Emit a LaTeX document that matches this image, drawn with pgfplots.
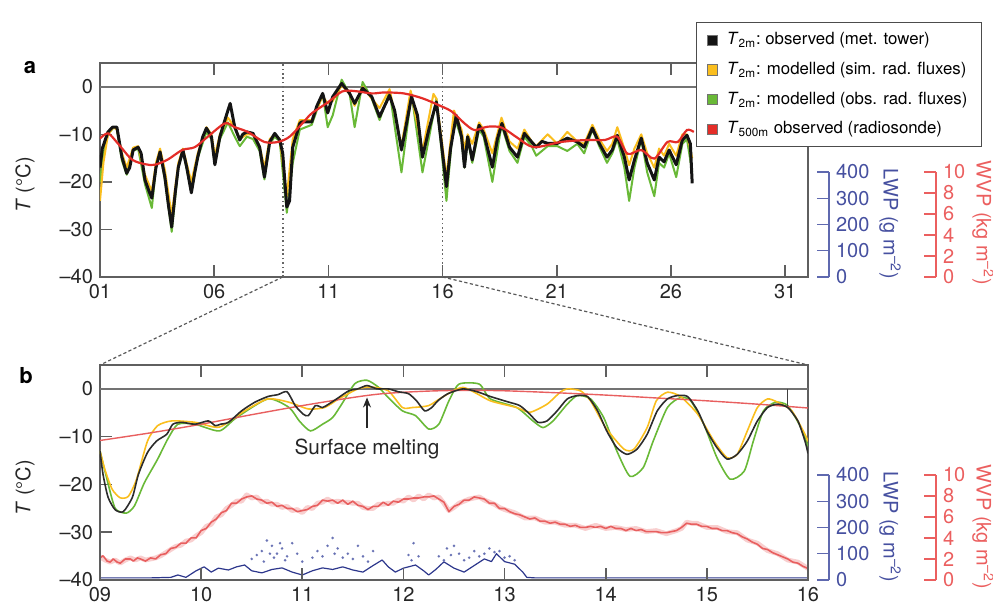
\documentclass[border=0pt]{standalone}
\usepackage{pgfplots}
\pgfplotsset{compat=1.18}
\usepackage{fontspec}
\setmainfont{TeX Gyre Heros}
\usetikzlibrary{arrows.meta}
\definecolor{cblk}{RGB}{20,20,20}
\definecolor{cyel}{RGB}{250,190,30}
\definecolor{cgrn}{RGB}{105,185,55}
\definecolor{cred}{RGB}{228,45,40}
\definecolor{cpink}{RGB}{232,95,95}
\definecolor{clwp}{RGB}{45,55,140}
\definecolor{clwpax}{RGB}{95,105,175}
\definecolor{clwptx}{RGB}{70,80,160}
\definecolor{cwvpax}{RGB}{235,95,95}
\definecolor{cframe}{RGB}{95,95,95}
\pgfplotsset{
  mainax/.style={scale only axis, width=354pt,
    axis line style={cframe, line width=0.8pt},
    tick align=inside, major tick length=6pt,
    tick style={cframe, line width=0.8pt},
    xtick pos=both, ytick pos=left,
    ymin=-40, ymax=5, ytick={-40,-30,-20,-10,0},
    yticklabels={\textendash40,\textendash30,\textendash20,\textendash10,0},
    tick label style={font=\fontsize{10}{12}\selectfont, text=black!85},
    /pgf/number format/assume math mode=true,
    ylabel={\textit{T} (°C)},
    every axis y label/.style={at={(-0.106,0.43)}, anchor=center, rotate=90, font=\fontsize{10}{12}\selectfont, text=black!85},
  },
  overax/.style={scale only axis, width=354pt, hide axis},
  sideax/.style={scale only axis, anchor=south east, width=20pt, height=52.5pt,
    xmin=0, xmax=1, axis x line=none, axis y line*=right,
    tick align=inside, major tick length=6pt,
    /pgf/number format/assume math mode=true,
    yticklabel style={font=\fontsize{10}{12}\selectfont}},
  lwpax/.style={sideax, ymin=0, ymax=400, ytick={0,100,200,300,400},
    axis line style={clwpax, line width=0.7pt}, tick style={clwpax, line width=0.7pt},
    yticklabel style={text=clwptx}},
  wvpax/.style={sideax, ymin=0, ymax=10, ytick={0,2,4,6,8,10},
    axis line style={cwvpax, line width=0.7pt}, tick style={cwvpax, line width=0.7pt},
    yticklabel style={text=cwvpax}},
}
\begin{document}
\begin{tikzpicture}
\useasboundingbox (0,0) rectangle (496.5pt,301.5pt);

% ---------------- panel a ----------------
\begin{axis}[mainax, at={(50pt,163pt)}, anchor=south west, height=107pt,
  xmin=1, xmax=32, xtick={1,6,11,16,21,26,31},
  xticklabels={01,06,11,16,21,26,31},
  legend style={at={(1.2458,1.1916)}, anchor=north east, draw=black!70, line width=0.6pt,
    fill=white, font=\fontsize{8.4}{10}\selectfont, row sep=3.2pt, column sep=2.5pt,
    inner xsep=5pt, inner ysep=3pt},
  legend cell align=left]
\addlegendimage{legend image code/.code={\filldraw[draw=black!55, line width=0.5pt, fill=cblk] (0pt,-2.6pt) rectangle (5.2pt,2.6pt);}}
\addlegendentry{\textit{T}\textsubscript{2m}:\ observed (met. tower)}
\addlegendimage{legend image code/.code={\filldraw[draw=black!55, line width=0.5pt, fill=cyel] (0pt,-2.6pt) rectangle (5.2pt,2.6pt);}}
\addlegendentry{\textit{T}\textsubscript{2m}: modelled (sim. rad. fluxes)}
\addlegendimage{legend image code/.code={\filldraw[draw=black!55, line width=0.5pt, fill=cgrn] (0pt,-2.6pt) rectangle (5.2pt,2.6pt);}}
\addlegendentry{\textit{T}\textsubscript{2m}: modelled (obs. rad. fluxes)}
\addlegendimage{legend image code/.code={\filldraw[draw=black!55, line width=0.5pt, fill=cred] (0pt,-2.6pt) rectangle (5.2pt,2.6pt);}}
\addlegendentry{\textit{T}\textsubscript{500m} observed (radiosonde)}
\addplot[forget plot, black!55, line width=0.9pt] coordinates {(1,0) (32,0)};
\addplot[forget plot, black!60, line width=0.9pt, dash pattern=on 0.8pt off 1.4pt] coordinates {(9,-40) (9,5)};
\addplot[forget plot, black!60, line width=0.9pt, dash pattern=on 0.8pt off 1.4pt] coordinates {(16,-40) (16,5)};
% green
\addplot[forget plot, cgrn, line width=1.0pt, line join=round] coordinates {
(1.0,-20)(1.15,-14)(1.35,-10)(1.6,-8.5)(1.74,-9)(1.96,-15.5)(2.17,-18.5)(2.45,-13.5)(2.67,-13)(2.97,-20.5)(3.27,-25.5)(3.45,-17)(3.63,-14)(3.84,-19.5)(4.14,-30.5)(4.43,-17)(4.63,-13.5)(5.0,-22)(5.28,-15)(5.66,-9.5)(5.88,-11)(6.03,-16)(6.25,-11)(6.6,-7.5)(6.9,-10.5)(7.12,-12.5)(7.43,-10.5)(7.7,-11)(7.99,-13.5)(8.2,-19.5)(8.43,-12)(8.65,-10.5)(8.87,-11.5)(9.18,-26.5)(9.44,-16)(9.75,-9)(10.27,-8)(10.75,-1.5)(10.97,-8.5)(11.19,-6)(11.58,1.5)(11.93,-1.5)(12.15,-8.5)(12.5,1)(12.9,-2.5)(13.24,-7)(13.68,-1)(14.2,-18)(14.64,-1.5)(15.12,-18)(15.73,-2.5)(16.17,-24)(16.5,-6)(16.83,-11)(16.96,-17)(17.1,-11)(17.3,-16)(17.6,-9)(17.8,-10.5)(18.18,-20)(18.58,-8)(18.93,-13.5)(19.28,-16)(19.58,-10.5)(19.9,-12.5)(20.1,-14.5)(20.6,-12.5)(21.03,-12.5)(21.46,-13.5)(21.9,-12)(22.2,-14)(22.56,-9)(22.86,-12.5)(23.2,-16)(23.43,-14)(23.65,-11)(23.96,-17)(24.17,-24)(24.4,-17)(24.7,-11)(24.96,-18)(25.27,-23)(25.48,-16)(25.7,-17)(25.92,-14)(26.23,-19)(26.5,-12)(26.7,-11)(26.93,-18)};
% yellow
\addplot[forget plot, cyel, line width=1.0pt, line join=round] coordinates {
(1.0,-24)(1.15,-16)(1.35,-10)(1.6,-8.5)(1.74,-9)(1.96,-14)(2.17,-17)(2.45,-12.8)(2.67,-12.5)(2.97,-18.5)(3.27,-22)(3.45,-16)(3.63,-13)(3.84,-17.5)(4.14,-27)(4.43,-16)(4.63,-13)(5.0,-20)(5.28,-14)(5.66,-8.5)(5.88,-10)(6.03,-14.5)(6.25,-10)(6.6,-6.5)(6.9,-8.5)(7.12,-11)(7.43,-10)(7.7,-10)(7.99,-12.5)(8.2,-17)(8.43,-11)(8.65,-10)(8.87,-11)(9.18,-23)(9.44,-11)(9.75,-7)(10.27,-7)(10.75,-2)(10.97,-3.5)(11.19,-3)(11.58,0.3)(11.93,-1.5)(12.15,-4)(12.5,0)(12.9,-2.5)(13.24,-4.5)(13.68,-0.5)(14.2,-12.5)(14.6,-0.8)(15.12,-13.5)(15.6,-1.5)(15.73,-2.5)(16.17,-19)(16.5,-5)(16.83,-9)(16.96,-13)(17.1,-10)(17.3,-12)(17.6,-7.5)(17.8,-9)(18.18,-14)(18.58,-6.5)(18.93,-11.5)(19.28,-13)(19.58,-9)(19.9,-11.5)(20.1,-12.5)(20.6,-10)(21.03,-12)(21.46,-9.5)(21.9,-11.5)(22.2,-12)(22.56,-8)(22.86,-11)(23.2,-13.5)(23.43,-12)(23.65,-8.5)(23.96,-13)(24.17,-16.5)(24.4,-13)(24.7,-10)(24.96,-14)(25.27,-17)(25.48,-13)(25.7,-14.5)(25.92,-12)(26.23,-14.5)(26.5,-10)(26.7,-10)(26.93,-15)};
% black
\addplot[forget plot, cblk, line width=1.5pt, line join=round] coordinates {
(1.0,-17)(1.1,-13)(1.35,-9.5)(1.55,-8.5)(1.74,-8.5)(1.96,-14.8)(2.17,-18.2)(2.3,-17)(2.45,-13.3)(2.67,-12.7)(2.8,-14)(2.97,-19.6)(3.15,-22)(3.27,-23.4)(3.45,-17)(3.63,-13.7)(3.84,-19)(4.0,-25)(4.14,-29.5)(4.3,-22)(4.43,-16.9)(4.63,-13.3)(4.8,-17)(5.0,-22.3)(5.15,-18)(5.28,-14.8)(5.5,-10.5)(5.66,-8.7)(5.88,-10.5)(6.03,-16.4)(6.25,-10.5)(6.47,-7)(6.6,-5)(6.7,-3.5)(6.9,-8.5)(7.12,-11.2)(7.25,-10)(7.43,-9.5)(7.7,-9.8)(7.99,-12.7)(8.2,-19)(8.43,-11.6)(8.65,-9.8)(8.87,-11.2)(9.0,-14)(9.18,-25.3)(9.3,-24)(9.44,-12.7)(9.75,-7.7)(9.83,-7.4)(10.27,-7.4)(10.5,-4)(10.75,-1.4)(10.97,-5.5)(11.19,-2.1)(11.58,0.7)(11.93,-1.4)(12.15,-3.5)(12.5,-0.3)(12.9,-2.1)(13.24,-6.3)(13.68,-1.8)(13.9,-5)(14.2,-13.3)(14.45,-7)(14.64,-2.1)(14.9,-6)(15.12,-14.8)(15.4,-9)(15.73,-3.2)(15.95,-12)(16.17,-21)(16.35,-13)(16.6,-6)(16.83,-10.5)(16.96,-16.9)(17.1,-10.5)(17.3,-15.4)(17.6,-8.1)(17.8,-9.8)(18.18,-16.9)(18.4,-11)(18.6,-7.7)(18.93,-12.7)(19.28,-14.8)(19.58,-9.8)(19.9,-11.6)(20.1,-12.7)(20.35,-11.5)(20.6,-11.9)(21.03,-11.9)(21.46,-10.8)(21.9,-11.6)(22.2,-12.7)(22.56,-8.7)(22.86,-11.9)(23.2,-14.8)(23.43,-13.3)(23.65,-10.2)(23.96,-14.8)(24.17,-19.6)(24.4,-15.4)(24.7,-10.8)(24.96,-16)(25.27,-19.6)(25.48,-14.8)(25.7,-15.8)(25.92,-13.3)(26.23,-16.4)(26.5,-11.2)(26.7,-10.2)(26.85,-12)(26.93,-20.3)};
% red T500m
\addplot[forget plot, cred, line width=1.1pt, smooth, tension=0.5] coordinates {
(1,-10.9)(1.35,-9.8)(1.78,-11.9)(2.4,-15.3)(3.0,-16.3)(3.4,-16.4)(3.97,-15.3)(4.6,-13.3)(5.15,-12.7)(5.72,-10.5)(6.47,-7.7)(6.9,-8.5)(7.47,-9.5)(8.2,-11.6)(8.8,-11.6)(9.3,-10.5)(9.9,-7.5)(10.27,-5.6)(11,-3.2)(11.6,-1.0)(12.15,-0.9)(12.9,-1.4)(13.45,-1.2)(14.3,-1.4)(15.1,-2.4)(15.8,-3.8)(16.4,-5.2)(16.96,-7.7)(17.4,-9.1)(17.97,-8.4)(18.6,-8.6)(19.3,-10.8)(20.0,-12.7)(21.2,-11.6)(22.3,-11.2)(23.1,-11.2)(23.65,-10.5)(24.1,-14.1)(24.7,-13.3)(25.27,-15.1)(25.85,-11.6)(26.3,-11.6)(26.7,-9.1)(27,-9.5)};
\coordinate (a9) at (axis cs:9,-40);
\coordinate (a16) at (axis cs:16,-40);
\end{axis}

\begin{axis}[lwpax, at={(414.5pt,163pt)}]
\end{axis}
\begin{axis}[wvpax, at={(468pt,163pt)}]
\end{axis}

% ---------------- panel b overlays ----------------
\begin{axis}[overax, at={(50pt,11.5pt)}, anchor=south west, height=107.5pt,
  xmin=9, xmax=16, ymin=0, ymax=20.45]
\addplot[cpink, opacity=0.3, line width=2.4pt, line join=round] coordinates {
(9.0,2.2)(9.05,1.9)(9.1,1.7)(9.15,1.9)(9.2,1.6)(9.25,1.9)(9.3,2.1)(9.35,1.9)(9.4,2.1)(9.45,1.9)(9.5,2.0)(9.55,2.1)(9.6,2.3)(9.65,2.6)(9.7,2.9)(9.75,3.2)(9.8,3.3)(9.85,3.7)(9.9,3.8)(9.95,4.2)(10.0,4.5)(10.05,5.1)(10.1,5.3)(10.15,6.0)(10.2,6.2)(10.25,6.8)(10.3,7.1)(10.35,7.5)(10.4,7.5)(10.45,8.1)(10.5,7.8)(10.55,7.9)(10.6,7.4)(10.65,7.5)(10.7,7.2)(10.75,7.2)(10.8,6.9)(10.85,7.0)(10.9,6.6)(10.95,6.7)(11.0,6.4)(11.05,6.9)(11.1,6.8)(11.15,7.3)(11.2,7.4)(11.25,7.7)(11.3,7.4)(11.35,7.5)(11.4,7.4)(11.45,7.4)(11.5,7.3)(11.55,7.3)(11.6,6.9)(11.65,6.8)(11.7,6.8)(11.75,7.2)(11.8,7.2)(11.85,7.3)(11.9,7.3)(11.95,7.6)(12.0,7.5)(12.05,7.9)(12.1,7.6)(12.15,8.0)(12.2,7.7)(12.25,8.1)(12.3,7.8)(12.35,7.9)(12.4,7.3)(12.45,6.6)(12.5,6.9)(12.55,7.3)(12.6,7.5)(12.65,7.7)(12.7,7.8)(12.75,7.9)(12.8,7.6)(12.85,7.4)(12.9,7.2)(12.95,6.9)(13.0,6.7)(13.1,6.4)(13.2,5.9)(13.3,5.9)(13.4,5.5)(13.5,5.5)(13.6,5.2)(13.7,5.2)(13.8,4.9)(13.9,5.2)(14.0,4.9)(14.1,5.0)(14.2,4.8)(14.3,4.9)(14.4,4.6)(14.5,4.7)(14.6,4.4)(14.7,4.7)(14.75,4.9)(14.8,5.5)(14.85,5.4)(14.9,5.4)(15.0,5.0)(15.1,5.0)(15.2,4.6)(15.3,4.5)(15.4,3.8)(15.5,3.5)(15.6,2.8)(15.7,2.5)(15.8,1.9)(15.9,1.7)(16.0,1.1)};
\addplot[cpink, line width=0.8pt, line join=round] coordinates {
(9.0,2.1)(9.03,2.3)(9.07,1.8)(9.1,1.7)(9.13,2.0)(9.17,1.7)(9.2,1.6)(9.25,2.0)(9.3,2.0)(9.33,1.8)(9.37,2.1)(9.4,2.0)(9.45,1.8)(9.5,2.1)(9.55,2.0)(9.6,2.4)(9.65,2.5)(9.7,3.0)(9.75,3.1)(9.8,3.5)(9.85,3.5)(9.9,4.0)(9.95,4.0)(10.0,4.7)(10.05,4.9)(10.1,5.5)(10.15,5.8)(10.2,6.4)(10.25,6.6)(10.3,7.3)(10.35,7.3)(10.4,7.7)(10.45,7.9)(10.5,8.0)(10.55,7.7)(10.6,7.6)(10.65,7.3)(10.7,7.4)(10.75,7.0)(10.8,7.1)(10.85,6.8)(10.9,6.8)(10.95,6.5)(11.0,6.6)(11.05,6.7)(11.1,7.0)(11.15,7.1)(11.2,7.6)(11.25,7.5)(11.3,7.6)(11.35,7.3)(11.4,7.6)(11.45,7.2)(11.5,7.5)(11.55,7.1)(11.6,7.0)(11.65,6.7)(11.7,7.0)(11.75,7.0)(11.8,7.4)(11.85,7.1)(11.9,7.5)(11.95,7.4)(12.0,7.7)(12.05,7.7)(12.1,7.8)(12.15,7.8)(12.2,7.9)(12.25,7.9)(12.3,8.0)(12.35,7.7)(12.4,7.4)(12.45,6.5)(12.5,7.0)(12.55,7.2)(12.6,7.6)(12.65,7.6)(12.7,7.9)(12.75,7.8)(12.8,7.7)(12.85,7.3)(12.9,7.3)(12.95,6.8)(13.0,6.8)(13.05,6.5)(13.1,6.3)(13.15,6.2)(13.2,6.0)(13.25,5.8)(13.3,5.9)(13.35,5.6)(13.4,5.6)(13.45,5.4)(13.5,5.5)(13.55,5.3)(13.6,5.3)(13.65,5.1)(13.7,5.2)(13.75,5.0)(13.8,5.0)(13.85,5.1)(13.9,5.0)(13.95,5.1)(14.0,4.9)(14.05,5.1)(14.1,4.9)(14.15,4.9)(14.2,4.7)(14.25,4.9)(14.3,4.7)(14.35,4.8)(14.4,4.6)(14.45,4.6)(14.5,4.6)(14.55,4.5)(14.6,4.5)(14.65,4.6)(14.7,4.7)(14.75,5.0)(14.8,5.4)(14.85,5.3)(14.9,5.3)(14.95,5.1)(15.0,5.1)(15.05,4.9)(15.1,4.9)(15.15,4.7)(15.2,4.7)(15.25,4.5)(15.3,4.4)(15.35,4.1)(15.4,3.9)(15.45,3.6)(15.5,3.4)(15.55,3.0)(15.6,2.9)(15.65,2.6)(15.7,2.4)(15.75,2.2)(15.8,2.0)(15.85,1.7)(15.9,1.6)(15.95,1.3)(16.0,1.1)};
\end{axis}
\begin{axis}[overax, at={(50pt,11.5pt)}, anchor=south west, height=107.5pt,
  xmin=9, xmax=16, ymin=0, ymax=818]
\addplot[only marks, mark=*, mark size=0.45pt, clwpax, opacity=0.8] coordinates {
(10.5,80)(10.55,95)(10.6,110)(10.62,70)(10.65,150)(10.68,100)(10.7,130)(10.72,85)(10.75,100)(10.78,140)(10.8,120)(10.83,75)(10.85,90)(10.9,140)(10.95,100)(11.0,70)(11.1,85)(11.15,110)(11.2,90)(11.25,130)(11.3,160)(11.32,100)(11.35,120)(11.4,85)(11.45,100)(11.5,80)(11.55,130)(11.6,90)(11.65,70)(11.7,110)(12.05,95)(12.08,75)(12.1,140)(12.15,90)(12.35,90)(12.4,75)(12.43,120)(12.47,95)(12.5,130)(12.55,100)(12.6,75)(12.65,85)(12.7,110)(12.75,90)(12.8,100)(12.85,120)(12.9,106)(12.95,110)(13.0,85)(13.05,90)(13.1,75)};
\addplot[clwp, line width=0.6pt, line join=round] coordinates {
(9,8)(9.5,8)(9.7,10)(9.77,19)(9.85,10)(9.95,35)(10.03,50)(10.1,30)(10.17,45)(10.27,38)(10.35,50)(10.43,57)(10.5,35)(10.6,27)(10.7,40)(10.8,46)(10.9,30)(11.0,19)(11.1,35)(11.2,46)(11.3,40)(11.4,50)(11.5,38)(11.6,30)(11.7,55)(11.79,76)(11.85,50)(11.92,30)(12.0,45)(12.12,57)(12.2,35)(12.25,19)(12.32,40)(12.4,69)(12.5,45)(12.6,30)(12.7,55)(12.8,80)(12.87,70)(12.92,100)(13.0,70)(13.1,60)(13.18,30)(13.22,10)(13.3,8)(16,8)};
\end{axis}

% ---------------- panel b ----------------
\begin{axis}[mainax, at={(50pt,11.5pt)}, anchor=south west, height=107.5pt,
  xmin=9, xmax=16, xtick={9,...,16}, xticklabels={09,10,11,12,13,14,15,16}]
\addplot[black!55, line width=0.9pt] coordinates {(9,0) (16,0)};
\addplot[cgrn, line width=0.8pt, smooth, tension=0.4] coordinates {
(9.0,-13)(9.07,-19)(9.15,-25)(9.26,-26)(9.34,-24.5)(9.44,-19.6)(9.57,-14.7)(9.67,-10.5)(9.77,-7.4)(9.94,-7.4)(10.18,-8.8)(10.35,-6)(10.66,-2.1)(10.87,-3.9)(10.97,-6.7)(11.08,-8.8)(11.2,-7.4)(11.3,-6.0)(11.39,-3.2)(11.52,1.1)(11.64,1.8)(11.75,0.4)(11.85,-1.8)(11.99,-4.6)(12.12,-5.6)(12.25,-8.4)(12.35,-7.4)(12.45,-2.5)(12.55,1)(12.75,1)(12.86,-2.1)(13.12,-3.9)(13.28,-6.7)(13.38,-8.1)(13.48,-6.7)(13.62,-3.2)(13.72,-1.4)(13.85,-2.1)(13.98,-6)(14.11,-13)(14.24,-18.3)(14.37,-16.5)(14.47,-10.9)(14.61,-3.9)(14.74,-1.8)(14.84,-2.5)(14.97,-7.4)(15.1,-14.4)(15.23,-18.9)(15.37,-17.2)(15.46,-10.9)(15.56,-4.6)(15.68,-2.8)(15.8,-3.5)(15.93,-8.1)(16,-12)};
\addplot[cyel, line width=0.8pt, smooth, tension=0.4] coordinates {
(9.0,-13)(9.05,-17)(9.12,-21)(9.2,-22.8)(9.28,-22.5)(9.36,-19)(9.47,-10.9)(9.57,-7.7)(9.71,-6.7)(9.94,-7)(10.18,-8)(10.43,-4.6)(10.66,-2.1)(10.87,-2.8)(11.06,-4.2)(11.22,-3.9)(11.36,-2.1)(11.55,0)(11.68,0.4)(11.85,-0.4)(11.99,-3.9)(12.09,-3.9)(12.25,-3.5)(12.38,-1.8)(12.59,0.3)(12.86,-2.5)(13.12,-3.9)(13.25,-4.9)(13.42,-3.2)(13.55,-0.7)(13.62,0)(13.75,-0.4)(13.85,-2.5)(14.0,-8.1)(14.18,-12.6)(14.28,-12.6)(14.41,-8.1)(14.5,-2.5)(14.61,-0.7)(14.74,-1.6)(14.91,-5.3)(15.07,-10.9)(15.2,-14.4)(15.3,-13.7)(15.4,-8.8)(15.5,-3.9)(15.6,-2.1)(15.7,-2.8)(15.84,-4.6)(15.97,-9.5)(16,-11)};
\addplot[cpink, line width=0.7pt, smooth] coordinates {
(9,-10.8)(9.5,-9.2)(10,-7.4)(10.5,-5.4)(11,-3.5)(11.5,-1.8)(11.8,-1.0)(12.2,-0.5)(12.6,-0.3)(13,-0.4)(13.5,-0.8)(14,-1.3)(14.5,-1.9)(15,-2.5)(15.5,-3.2)(16,-4)};
\addplot[cblk!90, line width=0.8pt, smooth, tension=0.4] coordinates {
(9.0,-13)(9.03,-17.9)(9.08,-22.7)(9.15,-25.3)(9.23,-25.7)(9.32,-22.7)(9.38,-17.9)(9.47,-13.3)(9.56,-10.9)(9.66,-9.5)(9.72,-7.4)(9.81,-7.0)(9.94,-7.4)(10.07,-6.7)(10.14,-7.7)(10.19,-7.4)(10.27,-7)(10.4,-4.6)(10.53,-2.8)(10.66,-1.6)(10.76,-1.2)(10.85,-0.6)(10.93,-3.5)(11.01,-5.3)(11.06,-5.6)(11.13,-3.5)(11.2,-3.9)(11.26,-3.2)(11.34,-2.1)(11.46,-0.4)(11.55,0)(11.64,0.7)(11.74,0)(11.85,0)(11.95,-0.6)(12.05,-1.0)(12.13,-2.5)(12.21,-4.6)(12.28,-3.9)(12.34,-2.5)(12.44,-1.0)(12.59,0)(12.73,-0.6)(12.86,-1.6)(13.03,-2.7)(13.15,-3.5)(13.25,-5.3)(13.33,-7.0)(13.42,-6.7)(13.52,-4.6)(13.62,-2.1)(13.72,-1.4)(13.82,-1.6)(13.92,-4.6)(14.01,-8.8)(14.11,-12.3)(14.21,-13.7)(14.31,-12.6)(14.41,-9.5)(14.51,-4.6)(14.61,-2.1)(14.71,-1.4)(14.81,-1.6)(14.91,-4.6)(15.0,-8.8)(15.1,-12.3)(15.2,-14.7)(15.3,-13.7)(15.4,-10.9)(15.5,-6.7)(15.6,-3.9)(15.7,-3.2)(15.8,-3.9)(15.9,-6.7)(15.97,-10.9)(16.0,-13.5)};
\addplot[black!75, line width=0.7pt] coordinates {(15.8,0) (15.8,-3.5)};
\draw[-{Stealth[length=5pt,width=4pt]}, line width=0.6pt, black!85] (axis cs:11.64,-8.2) -- (axis cs:11.64,-1.8);
\node[font=\fontsize{10.4}{12}\selectfont, text=black!85] at (axis cs:11.64,-12.6) {Surface melting};
\coordinate (bNW) at (rel axis cs:0,1);
\coordinate (bNE) at (rel axis cs:1,1);
\end{axis}

\begin{axis}[lwpax, at={(414.5pt,11.5pt)}]
\end{axis}
\begin{axis}[wvpax, at={(468pt,11.5pt)}]
\end{axis}

% connectors
\draw[black!65, line width=0.6pt, dash pattern=on 1.6pt off 1.2pt] (a9) -- (bNW);
\draw[black!65, line width=0.6pt, dash pattern=on 1.6pt off 1.2pt] (a16) -- (bNE);

% side labels
\node[rotate=-90, text=clwptx, font=\fontsize{10}{12}\selectfont] at (445pt,189.5pt) {LWP (g m\textsuperscript{\textendash 2})};
\node[rotate=-90, text=cwvpax, font=\fontsize{10}{12}\selectfont] at (491.5pt,190pt) {WVP (kg m\textsuperscript{\textendash 2})};
\node[rotate=-90, text=clwptx, font=\fontsize{10}{12}\selectfont] at (445pt,38pt) {LWP (g m\textsuperscript{\textendash 2})};
\node[rotate=-90, text=cwvpax, font=\fontsize{10}{12}\selectfont] at (491.5pt,38pt) {WVP (kg m\textsuperscript{\textendash 2})};

% panel letters
\node[font=\bfseries\fontsize{11}{13}\selectfont] at (15pt,267.5pt) {a};
\node[font=\bfseries\fontsize{11}{13}\selectfont] at (13pt,113.5pt) {b};
\end{tikzpicture}
\end{document}
